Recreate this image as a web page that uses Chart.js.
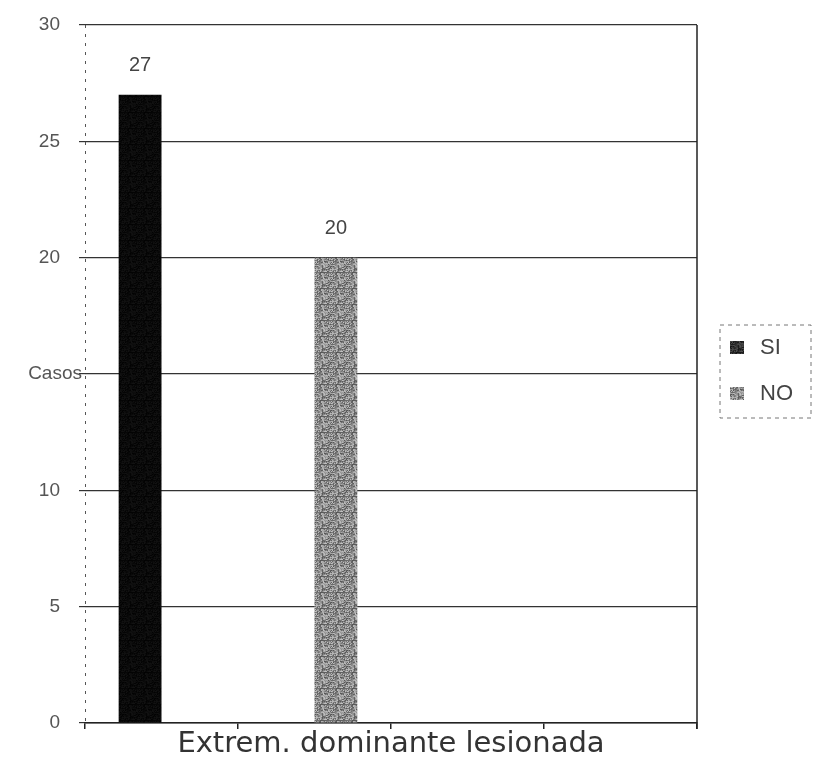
<!DOCTYPE html>
<html>
<head>
<meta charset="utf-8">
<script src="https://cdn.jsdelivr.net/npm/chart.js@4/dist/chart.umd.min.js"></script>
<style>
  html, body { margin: 0; padding: 0; background: #fff; }
  #wrap { width: 813px; height: 764px; }
</style>
</head>
<body>
<div id="wrap"><canvas id="myChart"></canvas></div>
<script>
// chart values
const categories = ["", "", "", ""];
const seriesNames = ["SI", "NO"];
const siValues = [27, null, null, null];
const noValues = [null, 20, null, null];
const yMin = 0, yMax = 30, yStep = 5;
const yTitle = "Casos";
const xTitle = "Extrem. dominante lesionada";

// speckled fill like the scanned bars
function speckle(base, spread) {
  const c = document.createElement("canvas");
  c.width = 16; c.height = 16;
  const ctx = c.getContext("2d");
  for (let y = 0; y < 16; y++) {
    for (let x = 0; x < 16; x++) {
      const h = ((x * 73856093) ^ (y * 19349663)) % 97 / 96; // fixed hash
      const v = Math.max(0, Math.min(255, Math.round(base + (h - 0.5) * spread)));
      ctx.fillStyle = "rgb(" + v + "," + v + "," + v + ")";
      ctx.fillRect(x, y, 1, 1);
    }
  }
  return ctx.createPattern(c, "repeat");
}
const siFill = speckle(10, 16);
const noFill = speckle(140, 110);

// value labels, y title, borders and boxed legend
const extras = {
  id: "extras",
  afterDatasetsDraw(chart) {
    const ctx = chart.ctx;
    const area = chart.chartArea;
    ctx.save();
    ctx.font = "20px 'Liberation Sans', Arial, sans-serif";
    ctx.fillStyle = "#444";
    ctx.textAlign = "center";
    ctx.textBaseline = "middle";
    chart.data.datasets.forEach((ds, i) => {
      chart.getDatasetMeta(i).data.forEach((bar, j) => {
        if (ds.data[j] == null) return;
        ctx.fillText(String(ds.data[j]), bar.x, bar.y - 29);
      });
    });

    // right border of the plot
    ctx.strokeStyle = "#222";
    ctx.lineWidth = 1.5;
    ctx.beginPath();
    ctx.moveTo(area.right, area.top);
    ctx.lineTo(area.right, area.bottom + 6);
    ctx.stroke();

    // dashed left axis line
    ctx.strokeStyle = "#555";
    ctx.lineWidth = 1;
    ctx.setLineDash([3, 6]);
    ctx.beginPath();
    ctx.moveTo(area.left + 0.5, area.top);
    ctx.lineTo(area.left + 0.5, area.bottom);
    ctx.stroke();
    ctx.setLineDash([]);

    // axis title written across the 15 tick
    const y = chart.scales.y.getPixelForValue(15);
    ctx.font = "19px 'Liberation Sans', Arial, sans-serif";
    ctx.fillStyle = "#555";
    ctx.textAlign = "right";
    ctx.fillText(yTitle, 82, y);

    // legend
    const lx = 720, ly = 325, lw = 91, lh = 93;
    ctx.strokeStyle = "#777";
    ctx.lineWidth = 1;
    ctx.setLineDash([4, 4]);
    ctx.strokeRect(lx, ly, lw, lh);
    ctx.setLineDash([]);
    ctx.font = "22px 'Liberation Sans', Arial, sans-serif";
    ctx.textAlign = "left";
    chart.data.datasets.forEach((ds, i) => {
      const cy = ly + 22 + i * 46;
      ctx.fillStyle = i === 0 ? speckle(50, 60) : ds.backgroundColor;
      ctx.fillRect(lx + 10, cy - 6, 14, 13);
      ctx.fillStyle = "#444";
      ctx.fillText(ds.label, lx + 40, cy + 1);
    });
    ctx.restore();
  }
};

new Chart("myChart", {
  type: "bar",
  data: {
    labels: categories,
    datasets: [
      { label: seriesNames[0], data: siValues, backgroundColor: siFill, borderWidth: 0 },
      { label: seriesNames[1], data: noValues, backgroundColor: noFill, borderWidth: 0 }
    ]
  },
  options: {
    responsive: true,
    maintainAspectRatio: false,
    animation: false,
    layout: { padding: { top: 25, right: 116, left: 0, bottom: 0 } },
    categoryPercentage: 0.56,
    barPercentage: 1,
    plugins: {
      legend: { display: false },
      tooltip: { enabled: false }
    },
    scales: {
      x: {
        grid: { drawOnChartArea: false, offset: true, tickLength: 6, color: "#222", lineWidth: 1.5 },
        border: { color: "#222", width: 1.5 },
        ticks: { display: false },
        title: {
          display: true,
          text: xTitle,
          color: "#333",
          font: { family: "'DejaVu Sans', Verdana, sans-serif", size: 29 },
          padding: { top: 0, bottom: 2 }
        },
        afterFit(scale) { scale.height = 41; }
      },
      y: {
        min: yMin,
        max: yMax,
        ticks: {
          stepSize: yStep,
          color: "#555",
          padding: 19,
          font: { family: "'Liberation Sans', Arial, sans-serif", size: 19 },
          callback: v => (v === 15 ? "" : v)
        },
        grid: { color: "#333", lineWidth: 1.2, tickLength: 6 },
        border: { display: false },
        afterFit(scale) {
          scale.width = 85;
          scale.paddingTop = 0;
          scale.paddingBottom = 0;
        }
      }
    }
  },
  plugins: [extras]
});
</script>
</body>
</html>
